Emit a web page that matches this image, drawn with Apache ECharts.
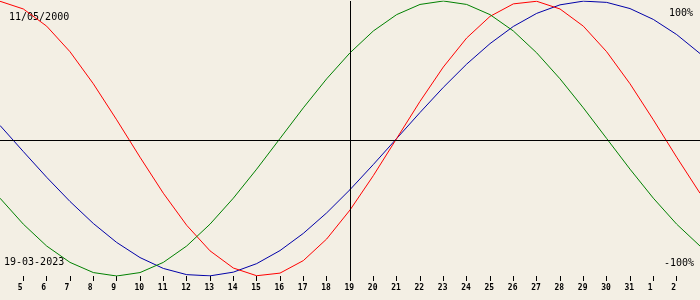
<!DOCTYPE html>
<html><head><meta charset="utf-8">
<script src="https://cdn.jsdelivr.net/npm/echarts@6/dist/echarts.min.js"></script>
<style>html,body{margin:0;padding:0;background:#f3efe4}#c{width:700px;height:300px}</style>
</head><body><div id="c"></div><script>
// Days of the window (March 4 .. April 3, counted as 4..34)
const days = [4,5,6,7,8,9,10,11,12,13,14,15,16,17,18,19,20,21,22,23,24,25,26,27,28,29,30,31,32,33,34];
// Tick positions and their labels (March 5 .. April 2)
const tickDays = [5,6,7,8,9,10,11,12,13,14,15,16,17,18,19,20,21,22,23,24,25,26,27,28,29,30,31,32,33];
const tickLabels = ['5','6','7','8','9','10','11','12','13','14','15','16','17','18','19','20','21','22','23','24','25','26','27','28','29','30','31','1','2'];
// Values in percent
const physical = [99.8,94.2,81.7,63.1,39.8,13.6,-13.6,-39.8,-63.1,-81.7,-94.2,-99.8,-97.9,-88.8,-73.1,-52.0,-27.0,0,27.0,52.0,73.1,88.8,97.9,99.8,94.2,81.7,63.1,39.8,13.6,-13.6,-39.8];
const emotional = [-43.4,-62.3,-78.2,-90.1,-97.5,-100,-97.5,-90.1,-78.2,-62.3,-43.4,-22.3,0,22.3,43.4,62.3,78.2,90.1,97.5,100,97.5,90.1,78.2,62.3,43.4,22.3,0,-22.3,-43.4,-62.3,-78.2];
const intellectual = [9.5,-9.5,-28.2,-45.8,-61.8,-75.6,-86.6,-94.5,-99.0,-99.9,-97.2,-91.0,-81.5,-69.0,-54.1,-37.2,-18.9,0,18.9,37.2,54.1,69.0,81.5,91.0,97.2,99.9,99.0,94.5,86.6,75.6,61.8];
const targetDay = 19;
const birthText = '11/05/2000';
const targetText = '19-03-2023';
const topText = '100%';
const bottomText = '-100%';

const chart = echarts.init(document.getElementById('c'), null, {renderer: 'canvas'});
const pts = arr => days.map((d, i) => [d, arr[i]]);
const labelShift = 0.236;
const mono = '"DejaVu Sans Mono", "Liberation Mono", monospace';

chart.setOption({
  backgroundColor: '#f3efe4',
  animation: false,
  grid: {left: 0, right: 0, top: 1, height: 275, containLabel: false},
  xAxis: [{
    type: 'value', min: 4, max: 34, position: 'bottom',
    axisLine: {show: false, onZero: false},
    splitLine: {show: false},
    axisLabel: {show: false},
    axisTick: {show: true, customValues: tickDays, length: 5, inside: false, lineStyle: {color: '#000', width: 1}}
  }, {
    type: 'value', min: 4 + labelShift, max: 34 + labelShift, position: 'bottom',
    axisLine: {show: false, onZero: false}, splitLine: {show: false}, axisTick: {show: false},
    axisLabel: {
      show: true, customValues: tickDays, align: 'left', margin: 8,
      color: '#000', fontFamily: mono, fontSize: 8, fontWeight: 'bold',
      formatter: v => tickLabels[tickDays.indexOf(Math.round(v))]
    }
  }],
  yAxis: {type: 'value', min: -100, max: 100, show: false, splitLine: {show: false}},
  graphic: [
    {type: 'text', left: 9, top: 12, style: {text: birthText, font: '10px ' + mono, fill: '#000'}},
    {type: 'text', right: 7, top: 8, style: {text: topText, font: '10px ' + mono, fill: '#000'}},
    {type: 'text', left: 4, top: 257, style: {text: targetText, font: '10px ' + mono, fill: '#000'}},
    {type: 'text', right: 6, top: 258, style: {text: bottomText, font: '10px ' + mono, fill: '#000'}}
  ],
  series: [
    {type: 'line', xAxisIndex: 0, data: pts(intellectual), showSymbol: false, symbol: 'none',
     lineStyle: {color: '#0000a8', width: 1}, itemStyle: {color: '#0000a8'},
     markLine: {silent: true, symbol: 'none', label: {show: false},
       lineStyle: {color: '#000', width: 1, type: 'solid'},
       data: [{xAxis: targetDay}, {yAxis: -1.2}]}},
    {type: 'line', xAxisIndex: 0, data: pts(physical), showSymbol: false, symbol: 'none',
     lineStyle: {color: '#ff0000', width: 1}, itemStyle: {color: '#ff0000'}},
    {type: 'line', xAxisIndex: 0, data: pts(emotional), showSymbol: false, symbol: 'none',
     lineStyle: {color: '#008000', width: 1}, itemStyle: {color: '#008000'}}
  ]
});
</script></body></html>
